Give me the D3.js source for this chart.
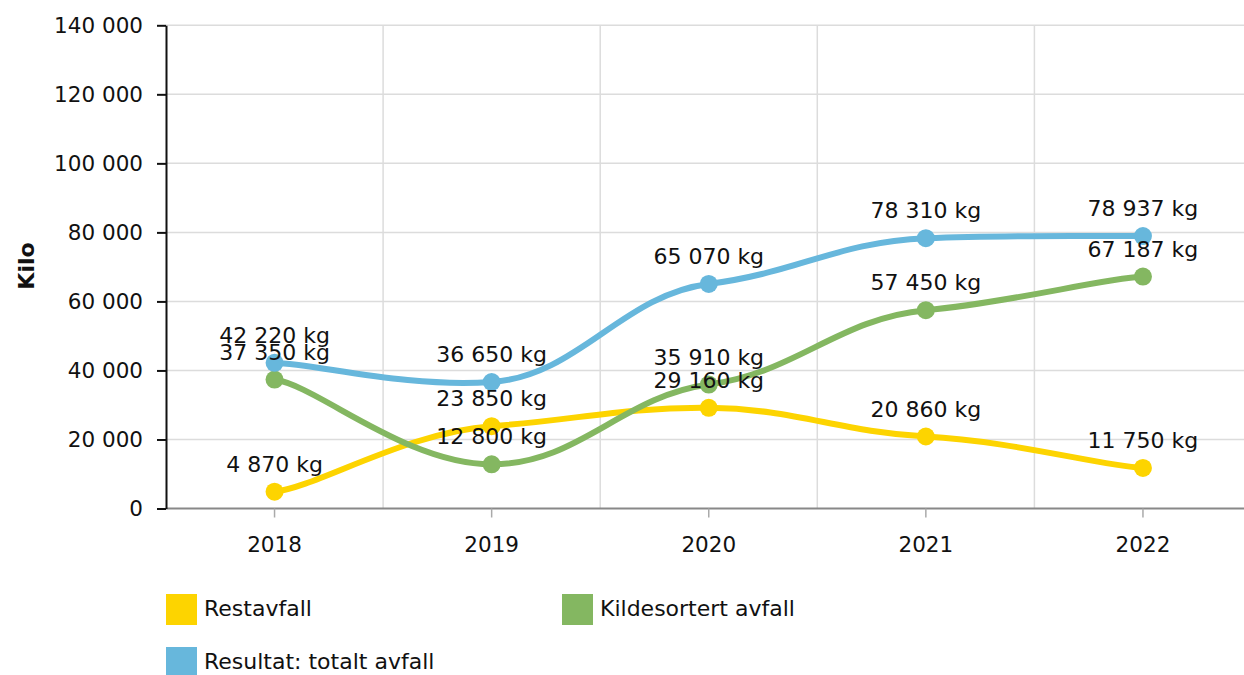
<!DOCTYPE html>
<html>
<head>
<meta charset="utf-8">
<script src="https://cdn.jsdelivr.net/npm/d3@7"></script>
<style>
  body { margin: 0; background: #fff; }
  svg { display: block; font-family: 'DejaVu Sans', Verdana, sans-serif; }
</style>
</head>
<body>
<svg width="1244" height="675"></svg>
<script>
const years = ['2018', '2019', '2020', '2021', '2022'];
const restavfall = [4870, 23850, 29160, 20860, 11750];
const kildesortert = [37350, 12800, 35910, 57450, 67187];
const totalt = [42220, 36650, 65070, 78310, 78937];
const seriesNames = ['Restavfall', 'Kildesortert avfall', 'Resultat: totalt avfall'];
const seriesColors = ['#fdd400', '#84b761', '#67b7dc'];
const yTicks = [0, 20000, 40000, 60000, 80000, 100000, 120000, 140000];

const series = [restavfall, kildesortert, totalt].map((values, i) => ({
  name: seriesNames[i],
  color: seriesColors[i],
  values: values.map((v, j) => ({ year: years[j], value: v }))
}));

// smoothed line with separate x / y tension
function TensionCurve(context, tx, ty) { this._context = context; this._tx = tx; this._ty = ty; }
TensionCurve.prototype = {
  areaStart() { this._line = 0; },
  areaEnd() { this._line = NaN; },
  lineStart() { this._p = []; },
  point(x, y) { this._p.push([+x, +y]); },
  lineEnd() {
    const p = this._p, n = p.length, tx = this._tx, ty = this._ty;
    if (!n) return;
    this._context.moveTo(p[0][0], p[0][1]);
    for (let i = 0; i < n - 1; i++) {
      const p0 = p[i - 1] || p[i], p1 = p[i], p2 = p[i + 1], p3 = p[i + 2] || p2;
      this._context.bezierCurveTo(
        p1[0] + (p2[0] - p0[0]) / 6 * tx, p1[1] + (p2[1] - p0[1]) / 6 * ty,
        p2[0] - (p3[0] - p1[0]) / 6 * tx, p2[1] - (p3[1] - p1[1]) / 6 * ty,
        p2[0], p2[1]);
    }
  }
};
const curveTension = context => new TensionCurve(context, 1.2, 0.45);

const svg = d3.select('svg');
const fontSize = 22;
const tickFont = 21.5;
const fmt = v => d3.format(',')(v).replace(/,/g, ' ');

const xScale = d3.scaleBand().domain(years).range([166, 1251.5]);
const yScale = d3.scaleLinear().domain([0, 140000]).range([508.5, 25.3]);
const cx = d => xScale(d) + xScale.bandwidth() / 2;

// grid
svg.append('g')
  .selectAll('line.hgrid')
  .data(yTicks.slice(1))
  .enter()
  .append('line')
  .attr('x1', 166).attr('x2', 1244)
  .attr('y1', d => yScale(d)).attr('y2', d => yScale(d))
  .style('stroke', '#dcdcdc').style('stroke-width', 1.5);

svg.append('g')
  .selectAll('line.vgrid')
  .data(years.slice(1))
  .enter()
  .append('line')
  .attr('x1', d => xScale(d)).attr('x2', d => xScale(d))
  .attr('y1', yScale(140000)).attr('y2', yScale(0))
  .style('stroke', '#dcdcdc').style('stroke-width', 1.5);

// x axis
const xAxis = d3.axisBottom()
  .scale(xScale)
  .tickSize(9)
  .tickPadding(19)
  .tickSizeOuter(0);

const xAxisG = svg.append('g')
  .attr('transform', 'translate(0,' + yScale(0) + ')')
  .call(xAxis)
  .attr('font-size', tickFont)
  .attr('font-family', 'DejaVu Sans, Verdana, sans-serif');
xAxisG.select('.domain').attr('d', 'M166,0H1244').style('stroke', '#888').style('stroke-width', 2);
xAxisG.selectAll('.tick line').style('stroke', '#aaa').style('stroke-width', 1.5);
xAxisG.selectAll('text').style('fill', '#111');

// y axis
const yAxis = d3.axisLeft()
  .scale(yScale)
  .tickValues(yTicks)
  .tickFormat(fmt)
  .tickSize(9)
  .tickPadding(14)
  .tickSizeOuter(0);

const yAxisG = svg.append('g')
  .attr('transform', 'translate(166,0)')
  .call(yAxis)
  .attr('font-size', tickFont)
  .attr('font-family', 'DejaVu Sans, Verdana, sans-serif');
yAxisG.select('.domain').style('stroke', '#111').style('stroke-width', 2);
yAxisG.selectAll('.tick line').style('stroke', '#111').style('stroke-width', 2);
yAxisG.selectAll('text').style('fill', '#111');

svg.append('text')
  .attr('transform', 'translate(34,266) rotate(-90)')
  .attr('text-anchor', 'middle')
  .style('font-size', fontSize + 'px')
  .style('font-weight', 'bold')
  .style('fill', '#111')
  .text('Kilo');

// lines
const line = d3.line()
  .x(d => cx(d.year))
  .y(d => yScale(d.value))
  .curve(curveTension);

const seriesG = svg.selectAll('g.series')
  .data(series)
  .enter()
  .append('g')
  .attr('class', 'series');

seriesG.append('path')
  .attr('d', d => line(d.values))
  .style('fill', 'none')
  .style('stroke', d => d.color)
  .style('stroke-width', 6);

seriesG.each(function(s) {
  d3.select(this)
    .selectAll('circle')
    .data(s.values)
    .enter()
    .append('circle')
    .attr('r', 9)
    .attr('cx', d => cx(d.year))
    .attr('cy', d => yScale(d.value))
    .style('fill', s.color);
});

// data labels
series.forEach(s => {
  svg.append('g')
    .selectAll('text')
    .data(s.values)
    .enter()
    .append('text')
    .attr('x', d => cx(d.year))
    .attr('y', d => yScale(d.value) - 20)
    .attr('text-anchor', 'middle')
    .style('font-size', fontSize + 'px')
    .style('fill', '#111')
    .text(d => fmt(d.value) + ' kg');
});

// legend
const legendPos = [[166, 594], [562, 594], [166, 647]];
const legend = svg.selectAll('g.legend')
  .data(series)
  .enter()
  .append('g')
  .attr('class', 'legend')
  .attr('transform', (d, i) => 'translate(' + legendPos[i][0] + ',' + legendPos[i][1] + ')');

legend.append('rect')
  .attr('width', 31)
  .attr('height', 31)
  .style('fill', d => d.color);

legend.append('text')
  .attr('x', 38)
  .attr('y', 22)
  .style('font-size', fontSize + 'px')
  .style('fill', '#111')
  .text(d => d.name);
</script>
</body>
</html>
